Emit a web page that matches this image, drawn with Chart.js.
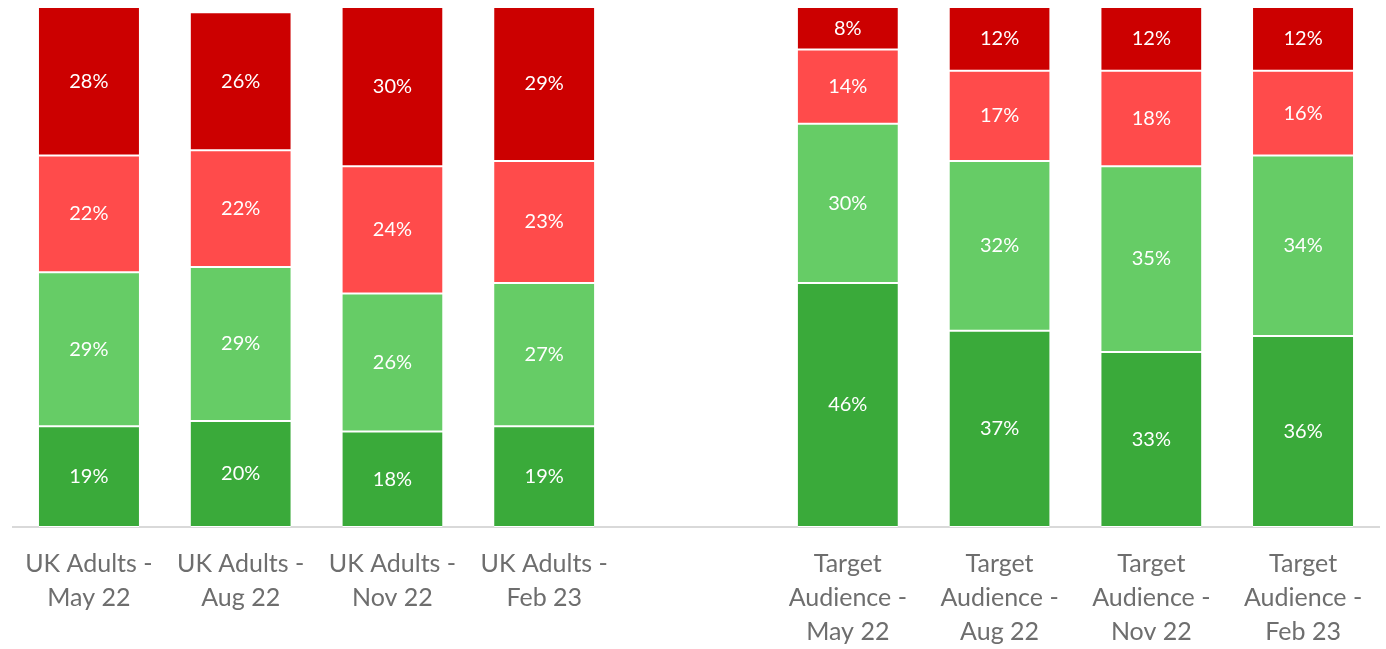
<!DOCTYPE html>
<html lang="en">
<head>
  <meta charset="UTF-8">
  <title>UK Adults vs Target Audience</title>
  <style>
    html,body{margin:0;padding:0;background:#fff;}
    #wrap{width:1386px;height:649px;position:relative;}
  </style>
  <script src="https://cdn.jsdelivr.net/npm/chart.js"></script>
</head>
<body>
  <div id="wrap"><canvas id="chart" width="1386" height="649"></canvas></div>
  <script>
    // categories (middle empty slot separates the two groups)
    const categories = [
      ['UK Adults -', 'May 22'],
      ['UK Adults -', 'Aug 22'],
      ['UK Adults -', 'Nov 22'],
      ['UK Adults -', 'Feb 23'],
      '',
      ['Target', 'Audience -', 'May 22'],
      ['Target', 'Audience -', 'Aug 22'],
      ['Target', 'Audience -', 'Nov 22'],
      ['Target', 'Audience -', 'Feb 23']
    ];

    // stacked from bottom to top
    const darkGreen  = [19, 20, 18, 19, null, 46, 37, 33, 36];
    const lightGreen = [29, 29, 26, 27, null, 30, 32, 35, 34];
    const lightRed   = [22, 22, 24, 23, null, 14, 17, 18, 16];
    const darkRed    = [28, 26, 30, 29, null,  8, 12, 12, 12];

    const segLabels = {
      id: 'segLabels',
      afterDatasetsDraw(chart) {
        const ctx = chart.ctx;
        ctx.save();
        ctx.fillStyle = '#ffffff';
        ctx.font = '20px Lato';
        ctx.textAlign = 'center';
        ctx.textBaseline = 'middle';
        chart.data.datasets.forEach((ds, i) => {
          chart.getDatasetMeta(i).data.forEach((bar, j) => {
            const v = ds.data[j];
            if (v == null) return;
            ctx.fillText(v + '%', bar.x, (bar.y + bar.base) / 2);
          });
        });
        ctx.restore();
      }
    };

    const mk = (data, color) => ({
      data,
      backgroundColor: color,
      borderColor: '#ffffff',
      borderWidth: { top: 1, bottom: 1, left: 0, right: 0 },
      borderSkipped: false,
      barPercentage: 0.66,
      categoryPercentage: 1
    });

    new Chart(document.getElementById('chart'), {
      type: 'bar',
      data: {
        labels: categories,
        datasets: [
          mk(darkGreen, '#3aaa3a'),
          mk(lightGreen, '#66cc66'),
          mk(lightRed, '#ff4b4b'),
          mk(darkRed, '#cc0000')
        ]
      },
      options: {
        responsive: false,
        animation: false,
        layout: { padding: { left: 13, right: 7, top: 7, bottom: 0 } },
        plugins: { legend: { display: false }, tooltip: { enabled: false } },
        scales: {
          x: {
            stacked: true,
            grid: { display: false },
            border: { display: true, color: '#d9d9d9', width: 2 },
            ticks: {
              color: '#6e6e6e',
              font: { family: 'Lato', size: 25, lineHeight: 1.36 },
              padding: 12,
              maxRotation: 0,
              autoSkip: false
            },
            afterFit(scale) { scale.height = 122; }
          },
          y: {
            stacked: true,
            display: false,
            min: 0,
            max: 98
          }
        }
      },
      plugins: [segLabels]
    });
  </script>
</body>
</html>
